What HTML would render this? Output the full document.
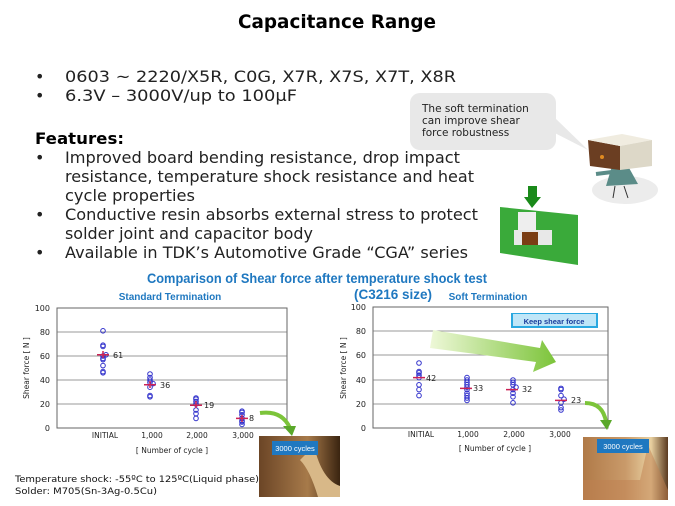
<!DOCTYPE html><html><head><meta charset="utf-8"><style>
body{margin:0;background:#fff}svg{display:block}
text{font-family:"DejaVu Sans","Liberation Sans",sans-serif}
.a{font-family:"Liberation Sans",sans-serif}
</style></head><body>
<svg width="675" height="506" viewBox="0 0 675 506" xmlns="http://www.w3.org/2000/svg">
<defs>
<linearGradient id="ga" x1="0" x2="1"><stop offset="0" stop-color="#eef8d8"/><stop offset="1" stop-color="#7cc43a"/></linearGradient>
<linearGradient id="ph1" x1="0" x2="1"><stop offset="0" stop-color="#6b4526"/><stop offset=".6" stop-color="#a77a4a"/><stop offset="1" stop-color="#3a2410"/></linearGradient>
<linearGradient id="ph2" x1="0" x2="1"><stop offset="0" stop-color="#b07a48"/><stop offset=".5" stop-color="#c99a6a"/><stop offset=".8" stop-color="#e8d0a0"/><stop offset="1" stop-color="#5a3a20"/></linearGradient>
</defs>
<text x="337" y="28" font-size="19" font-weight="bold" text-anchor="middle" textLength="198" lengthAdjust="spacingAndGlyphs">Capacitance Range</text>
<g font-size="16" fill="#222">
<text x="35" y="82">•</text><text x="65" y="82" textLength="391" lengthAdjust="spacingAndGlyphs">0603 ~ 2220/X5R, C0G, X7R, X7S, X7T, X8R</text>
<text x="35" y="101">•</text><text x="65" y="101" textLength="232" lengthAdjust="spacingAndGlyphs">6.3V – 3000V/up to 100µF</text>
<text x="35" y="144" font-weight="bold" textLength="89" lengthAdjust="spacingAndGlyphs" fill="#000">Features:</text>
<text x="35" y="163">•</text><text x="65" y="163" textLength="395" lengthAdjust="spacingAndGlyphs">Improved board bending resistance, drop impact</text>
<text x="65" y="182" textLength="409" lengthAdjust="spacingAndGlyphs">resistance, temperature shock resistance and heat</text>
<text x="65" y="201" textLength="130" lengthAdjust="spacingAndGlyphs">cycle properties</text>
<text x="35" y="220">•</text><text x="65" y="220" textLength="413" lengthAdjust="spacingAndGlyphs">Conductive resin absorbs external stress to protect</text>
<text x="65" y="239" textLength="248" lengthAdjust="spacingAndGlyphs">solder joint and capacitor body</text>
<text x="35" y="258">•</text><text x="65" y="258" textLength="403" lengthAdjust="spacingAndGlyphs">Available in TDK’s Automotive Grade “CGA” series</text>
</g>
<!-- bubble -->
<path d="M545 128 L588 150 L555 118 Z" fill="#e8e8e8"/>
<rect x="410" y="93" width="146" height="57" rx="10" fill="#e8e8e8"/>
<g font-size="10.5" fill="#222"><text x="422" y="112">The soft termination</text><text x="422" y="124">can improve shear</text><text x="422" y="136">force robustness</text></g>
<!-- character -->
<ellipse cx="625" cy="190" rx="33" ry="14" fill="#ececec"/>
<path d="M612 166 L628 166 L638 184 L606 186 Z" fill="#5b8c88"/>
<path d="M596 174 L612 172" stroke="#5b8c88" stroke-width="4"/>
<path d="M615 186 L613 198 M624 186 L628 198" stroke="#333" stroke-width="1"/>
<path d="M588 140 L620 146 L620 170 L590 166 Z" fill="#6b3e22"/>
<path d="M588 140 L620 146 L652 140 L622 134 Z" fill="#f0ece0"/>
<path d="M620 146 L652 140 L652 166 L620 170 Z" fill="#ddd8c8"/>
<circle cx="602" cy="157" r="2" fill="#e08a20"/>
<!-- board -->
<path d="M500 207 L578 215 L578 265 L500 253 Z" fill="#3aaa3a"/>
<rect x="518" y="212" width="18" height="24" fill="#eee"/>
<rect x="514" y="230" width="38" height="15" fill="#e8e8e8"/>
<rect x="522" y="232" width="16" height="13" fill="#7a3d14"/>
<rect x="528" y="186" width="9" height="12" fill="#1a8a1a"/><path d="M524 197 L541 197 L532 208 Z" fill="#1a8a1a"/>
<!-- chart title -->
<text class="a" x="317" y="283" font-size="13.5" font-weight="bold" fill="#1f78c0" text-anchor="middle" textLength="340" lengthAdjust="spacingAndGlyphs">Comparison of Shear force after temperature shock test</text>
<text class="a" x="393" y="299" font-size="13.5" font-weight="bold" fill="#1f78c0" text-anchor="middle">(C3216 size)</text>
<text class="a" x="170" y="300" font-size="10" font-weight="bold" fill="#1f78c0" text-anchor="middle">Standard Termination</text>
<text class="a" x="488" y="300" font-size="10" font-weight="bold" fill="#1f78c0" text-anchor="middle">Soft Termination</text>
<!-- left chart -->
<g class="a" font-size="8" fill="#222">
<rect x="57" y="308" width="230" height="120" fill="none" stroke="#666"/>
<g stroke="#777" stroke-width=".8"><line x1="57" x2="287" y1="332" y2="332"/><line x1="57" x2="287" y1="356" y2="356"/><line x1="57" x2="287" y1="380" y2="380"/><line x1="57" x2="287" y1="404" y2="404"/></g>
<g text-anchor="end"><text x="50" y="311">100</text><text x="50" y="335">80</text><text x="50" y="359">60</text><text x="50" y="383">40</text><text x="50" y="407">20</text><text x="50" y="431">0</text></g>
<text transform="translate(29 368) rotate(-90)" text-anchor="middle" font-size="7.5">Shear force [ N ]</text>
<g text-anchor="middle" font-size="7.5"><text x="105" y="438">INITIAL</text><text x="152" y="438">1,000</text><text x="197" y="438">2,000</text><text x="243" y="438">3,000</text></g>
<text x="172" y="453" text-anchor="middle" font-size="7.5">[ Number of cycle ]</text>
</g>
<g id="L" fill="none" stroke="#3333cc" stroke-width="1">
<circle cx="103" cy="330.8" r="2.3"/><circle cx="103" cy="345.2" r="2.3"/><circle cx="103" cy="346.4" r="2.3"/><circle cx="106" cy="354.8" r="2.3"/><circle cx="103" cy="356" r="2.3"/><circle cx="103" cy="358.4" r="2.3"/><circle cx="103" cy="359.6" r="2.3"/><circle cx="103" cy="365.6" r="2.3"/><circle cx="103" cy="371.6" r="2.3"/><circle cx="103" cy="372.8" r="2.3"/>
<circle cx="150" cy="374" r="2.3"/><circle cx="150" cy="377.6" r="2.3"/><circle cx="150" cy="380" r="2.3"/><circle cx="150" cy="382.4" r="2.3"/><circle cx="153" cy="383.6" r="2.3"/><circle cx="150" cy="387.2" r="2.3"/><circle cx="150" cy="395.6" r="2.3"/><circle cx="150" cy="396.8" r="2.3"/>
<circle cx="196" cy="398" r="2.3"/><circle cx="196" cy="399.2" r="2.3"/><circle cx="196" cy="401.6" r="2.3"/><circle cx="196" cy="404" r="2.3"/><circle cx="196" cy="410" r="2.3"/><circle cx="196" cy="413.6" r="2.3"/><circle cx="196" cy="418.4" r="2.3"/>
<circle cx="242" cy="411.2" r="2.3"/><circle cx="242" cy="412.4" r="2.3"/><circle cx="242" cy="414.8" r="2.3"/><circle cx="242" cy="418.4" r="2.3"/><circle cx="242" cy="420.8" r="2.3"/><circle cx="242" cy="422" r="2.3"/><circle cx="242" cy="424.4" r="2.3"/>
</g>
<g stroke="#cc2255" stroke-width="1.5"><path d="M97 354.8h12M103 351v7M144 384.8h12M150 381v7M190 405.2h12M196 401v7M236 418.4h12M242 415v7"/></g>
<g class="a" font-size="8" fill="#222"><text x="113" y="358">61</text><text x="160" y="388">36</text><text x="204" y="408">19</text><text x="249" y="421">8</text></g>
<!-- right chart -->
<g class="a" font-size="8" fill="#222">
<rect x="373" y="307" width="235" height="121" fill="none" stroke="#666"/>
<g stroke="#777" stroke-width=".8"><line x1="373" x2="608" y1="331" y2="331"/><line x1="373" x2="608" y1="355" y2="355"/><line x1="373" x2="608" y1="380" y2="380"/><line x1="373" x2="608" y1="404" y2="404"/></g>
<g text-anchor="end"><text x="366" y="310">100</text><text x="366" y="334">80</text><text x="366" y="358">60</text><text x="366" y="383">40</text><text x="366" y="407">20</text><text x="366" y="431">0</text></g>
<text transform="translate(346 368) rotate(-90)" text-anchor="middle" font-size="7.5">Shear force [ N ]</text>
<g text-anchor="middle" font-size="7.5"><text x="421" y="437">INITIAL</text><text x="468" y="437">1,000</text><text x="514" y="437">2,000</text><text x="560" y="437">3,000</text></g>
<text x="495" y="451" text-anchor="middle" font-size="7.5">[ Number of cycle ]</text>
</g>
<path d="M433 330 L540 348 L542 340 L556 362 L533 372 L536 362 L430 348 Z" fill="url(#ga)"/>
<rect x="511" y="313" width="87" height="15" fill="#2aa8e0"/><rect x="513" y="314" width="83" height="12" fill="#bfe6f8"/>
<text class="a" x="554" y="324" font-size="7.5" font-weight="bold" fill="#1a3c9c" text-anchor="middle">Keep shear force</text>
<g fill="none" stroke="#3333cc" stroke-width="1">
<circle cx="419" cy="363" r="2.3"/><circle cx="419" cy="371.6" r="2.3"/><circle cx="419" cy="372.8" r="2.3"/><circle cx="419" cy="375.2" r="2.3"/><circle cx="419" cy="377.6" r="2.3"/><circle cx="419" cy="384.8" r="2.3"/><circle cx="419" cy="389.6" r="2.3"/><circle cx="419" cy="395.6" r="2.3"/>
<circle cx="467" cy="377.6" r="2.3"/><circle cx="467" cy="380" r="2.3"/><circle cx="467" cy="382.4" r="2.3"/><circle cx="467" cy="384.8" r="2.3"/><circle cx="467" cy="387.2" r="2.3"/><circle cx="467" cy="389.6" r="2.3"/><circle cx="467" cy="393.2" r="2.3"/><circle cx="467" cy="395.6" r="2.3"/><circle cx="467" cy="398" r="2.3"/><circle cx="467" cy="400.4" r="2.3"/>
<circle cx="513" cy="380" r="2.3"/><circle cx="513" cy="382.4" r="2.3"/><circle cx="513" cy="384.8" r="2.3"/><circle cx="516" cy="387.2" r="2.3"/><circle cx="513" cy="389.6" r="2.3"/><circle cx="513" cy="393.2" r="2.3"/><circle cx="513" cy="396.8" r="2.3"/><circle cx="513" cy="402.8" r="2.3"/>
<circle cx="561" cy="388.4" r="2.3"/><circle cx="561" cy="389.6" r="2.3"/><circle cx="561" cy="395.6" r="2.3"/><circle cx="564" cy="399.2" r="2.3"/><circle cx="561" cy="402.8" r="2.3"/><circle cx="561" cy="407.6" r="2.3"/><circle cx="561" cy="410" r="2.3"/>
</g>
<g stroke="#cc2255" stroke-width="1.5"><path d="M413 377.6h12M460 388.4h12M506 389.6h12M555 400.4h12"/></g>
<g class="a" font-size="8" fill="#222"><text x="426" y="381">42</text><text x="473" y="391">33</text><text x="522" y="392">32</text><text x="571" y="403">23</text></g>
<!-- curved arrows -->
<path d="M260 413 Q282 410 290 428" fill="none" stroke="#7cc43a" stroke-width="4"/><path d="M283 426 L296 426 L292 436 Z" fill="#5aa82a"/>
<path d="M585 403 Q603 403 606 422" fill="none" stroke="#7cc43a" stroke-width="4"/><path d="M600 420 L612 420 L607 430 Z" fill="#5aa82a"/>
<!-- photos -->
<rect x="259" y="436" width="81" height="61" fill="url(#ph1)"/><path d="M300 460 Q310 470 318 497 L340 497 L340 486 Q322 480 314 446 Z" fill="#d8b888"/>
<rect x="272" y="441" width="46" height="14" fill="#1f78c0"/><text class="a" x="295" y="451" font-size="7.5" fill="#fff" text-anchor="middle">3000 cycles</text>
<rect x="583" y="437" width="85" height="63" fill="url(#ph2)"/><path d="M583 480 L640 480 L648 445 L668 490 L668 500 L583 500 Z" fill="#c08050" opacity=".5"/>
<rect x="597" y="439" width="52" height="14" fill="#1f78c0"/><text class="a" x="623" y="449" font-size="7.5" fill="#fff" text-anchor="middle">3000 cycles</text>
<g font-size="9" fill="#111"><text x="15" y="482" textLength="244" lengthAdjust="spacingAndGlyphs">Temperature shock: -55ºC to 125ºC(Liquid phase)</text><text x="15" y="494" textLength="142" lengthAdjust="spacingAndGlyphs">Solder: M705(Sn-3Ag-0.5Cu)</text></g>
</svg>
</body></html>
